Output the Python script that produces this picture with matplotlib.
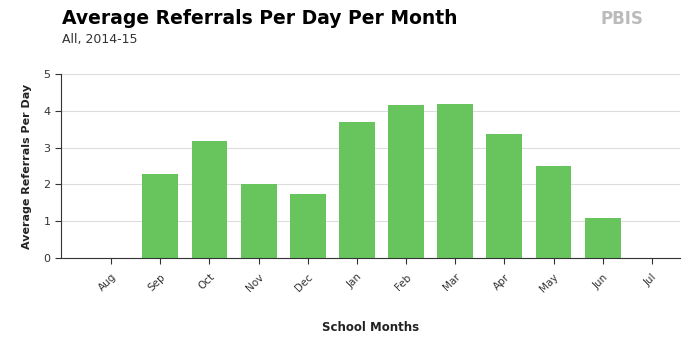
import matplotlib
matplotlib.use("Agg")
import matplotlib.pyplot as plt

# Average referrals per day for each school month
months = ["Aug", "Sep", "Oct", "Nov", "Dec", "Jan", "Feb", "Mar", "Apr", "May", "Jun", "Jul"]
referrals = [0, 2.27, 3.18, 2.0, 1.75, 3.68, 4.16, 4.19, 3.36, 2.49, 1.1, 0]

fig = plt.figure(figsize=(6.86, 3.45), dpi=100)
ax = fig.add_axes([0.089, 0.252, 0.902, 0.534])

x = list(range(len(months)))
ax.bar(x, referrals, width=0.73, color="#68c45d", zorder=2)

ax.set_xlim(-1.02, 11.57)
ax.set_ylim(0, 5)
ax.set_yticks(range(0, 6))
ax.set_xticks(x)
ax.set_xticklabels(months, rotation=45, ha="right", rotation_mode="anchor", fontsize=7.5)
ax.tick_params(axis="y", labelsize=8, length=4, color="#333333", labelcolor="#333333")
ax.tick_params(axis="x", length=4, pad=6, color="#333333", labelcolor="#333333")
ax.grid(axis="y", color="#dddddd", linewidth=0.8, zorder=0)

for side in ["top", "right"]:
    ax.spines[side].set_visible(False)
ax.spines["left"].set_color("#333333")
ax.spines["bottom"].set_color("#333333")

ax.set_ylabel("Average Referrals Per Day", fontsize=8, fontweight="bold", labelpad=8, color="#222222")
ax.set_xlabel("School Months", fontsize=8.5, fontweight="bold", labelpad=19, color="#222222")

# Title and subtitle
fig.text(0.09, 0.93, "Average Referrals Per Day Per Month", fontsize=13.5, fontweight="bold")
fig.text(0.09, 0.875, "All, 2014-15", fontsize=9, color="#333333")
fig.text(0.875, 0.93, "PBIS", fontsize=12, color="#bbbbbb", fontweight="bold")

fig.savefig("out.png", dpi=100)
